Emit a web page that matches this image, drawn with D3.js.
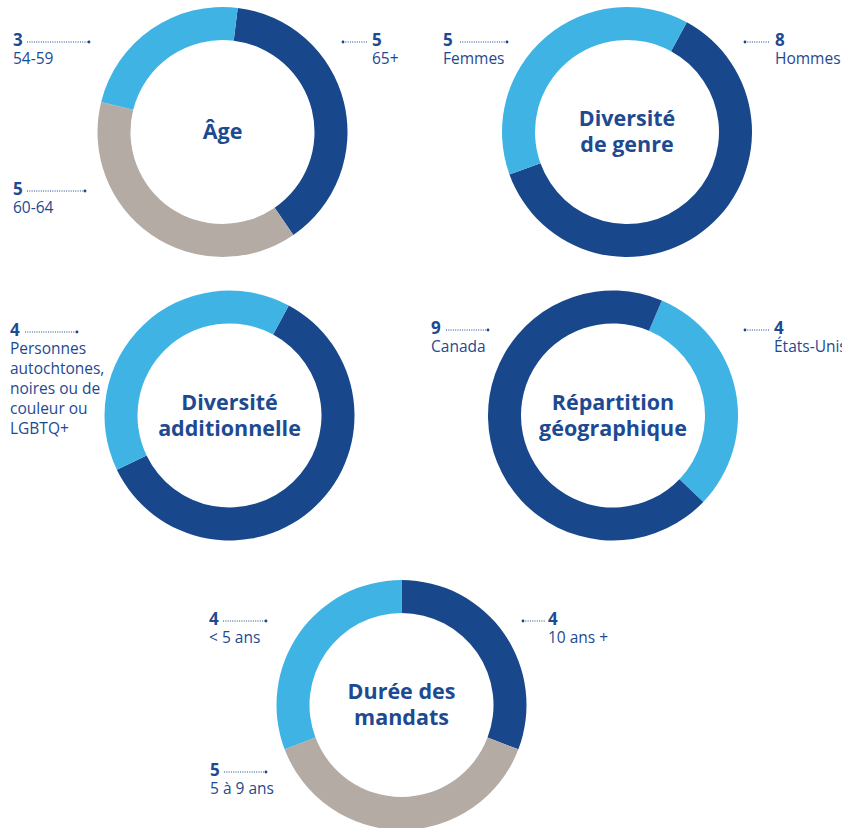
<!DOCTYPE html>
<html>
<head>
<meta charset="utf-8">
<script src="https://cdn.jsdelivr.net/npm/d3@7"></script>
<style>
  html, body { margin: 0; padding: 0; background: #fff; }
  svg { display: block; }
  text { font-family: "Open Sans", sans-serif; fill: #1d4a91; }
  .num { font-weight: 700; font-size: 17px; }
  .lbl { font-size: 15.5px; }
  .title { font-weight: 700; font-size: 21.5px; text-anchor: middle; }
</style>
</head>
<body>
<svg id="chart" width="842" height="828"></svg>
<script>
// ── Data ───────────────────────────────────────────────────────────────────
const AGE_LABELS    = ["65+", "60-64", "54-59"];
const AGE_VALUES    = [5, 5, 3];
const GENRE_LABELS  = ["Hommes", "Femmes"];
const GENRE_VALUES  = [8, 5];
const DIV_LABELS    = ["", "Personnes|autochtones,|noires ou de|couleur ou|LGBTQ+"];
const DIV_VALUES    = [6, 4];
const GEO_LABELS    = ["États-Unis", "Canada"];
const GEO_VALUES    = [4, 9];
const MANDAT_LABELS = ["10 ans +", "5 à 9 ans", "< 5 ans"];
const MANDAT_VALUES = [4, 5, 4];
const TITLES = [
    ["Âge"],
    ["Diversité", "de genre"],
    ["Diversité", "additionnelle"],
    ["Répartition", "géographique"],
    ["Durée des", "mandats"],
];

// ── Styles / layout ────────────────────────────────────────────────────────
const DARK = "#19478c", LIGHT = "#3fb4e4", GRAY = "#b4aca4";
const R_OUT = 125, R_IN = 92;

const charts = [
    { labels: AGE_LABELS, values: AGE_VALUES, colors: [DARK, GRAY, LIGHT], cx: 222.5, cy: 132, start: 7,
      callouts: [
        { i: 0, side: "right", x: 372, y: 46, l1: 343, l2: 367 },
        { i: 1, side: "left",  x: 13,  y: 195, l1: 27, l2: 85 },
        { i: 2, side: "left",  x: 13,  y: 46, l1: 27, l2: 89 },
      ] },
    { labels: GENRE_LABELS, values: GENRE_VALUES, colors: [DARK, LIGHT], cx: 627, cy: 132, start: 28.6,
      callouts: [
        { i: 0, side: "right", x: 775, y: 46, l1: 745, l2: 770 },
        { i: 1, side: "left",  x: 443, y: 46, l1: 460, l2: 507 },
      ] },
    { labels: DIV_LABELS, values: DIV_VALUES, colors: [DARK, LIGHT], cx: 229.5, cy: 415.5, start: 28.3,
      callouts: [
        { i: 1, side: "left", x: 10, y: 336, l1: 25, l2: 77 },
      ] },
    { labels: GEO_LABELS, values: GEO_VALUES, colors: [LIGHT, DARK], cx: 613, cy: 415.5, start: 23,
      callouts: [
        { i: 0, side: "right", x: 774, y: 334, l1: 745, l2: 769 },
        { i: 1, side: "left",  x: 431, y: 334, l1: 446, l2: 488 },
      ] },
    { labels: MANDAT_LABELS, values: MANDAT_VALUES, colors: [DARK, GRAY, LIGHT], cx: 401.5, cy: 705, start: 0,
      callouts: [
        { i: 0, side: "right", x: 548, y: 625, l1: 523, l2: 546 },
        { i: 1, side: "left",  x: 210, y: 776, l1: 224, l2: 266 },
        { i: 2, side: "left",  x: 209, y: 625, l1: 223, l2: 266 },
      ] },
];

const svg = d3.select("#chart");
const arc = d3.arc().innerRadius(R_IN).outerRadius(R_OUT);

charts.forEach((c, k) => {
    const s = c.start * Math.PI / 180;
    const pie = d3.pie().sort(null).startAngle(s).endAngle(s + 2 * Math.PI);
    const g = svg.append("g").attr("transform", `translate(${c.cx},${c.cy})`);

    g.selectAll("path")
        .data(pie(c.values))
        .join("path")
        .attr("d", arc)
        .attr("fill", (d, i) => c.colors[i]);

    // Title in the hole
    const lines = TITLES[k];
    const t = g.append("text").attr("class", "title");
    lines.forEach((ln, j) => {
        const y = lines.length === 1 ? 7 : -6 + j * 26;
        t.append("tspan").attr("x", 0).attr("y", y).text(ln);
    });

    // Callouts
    c.callouts.forEach(co => {
        const ly = co.y - 4;
        svg.append("line")
            .attr("x1", co.l1).attr("x2", co.l2).attr("y1", ly).attr("y2", ly)
            .attr("stroke", DARK).attr("stroke-width", 1)
            .attr("stroke-dasharray", "1,1.3");
        svg.append("circle")
            .attr("cx", co.side === "left" ? co.l2 : co.l1).attr("cy", ly)
            .attr("r", 1.4).attr("fill", DARK);
        svg.append("text").attr("class", "num")
            .attr("x", co.x).attr("y", co.y)
            .text(c.values[co.i]);
        const txt = svg.append("text").attr("class", "lbl");
        c.labels[co.i].split("|").forEach((ln, j) => {
            txt.append("tspan").attr("x", co.x).attr("y", co.y + 18 + j * 20).text(ln);
        });
    });
});
</script>
</body>
</html>
